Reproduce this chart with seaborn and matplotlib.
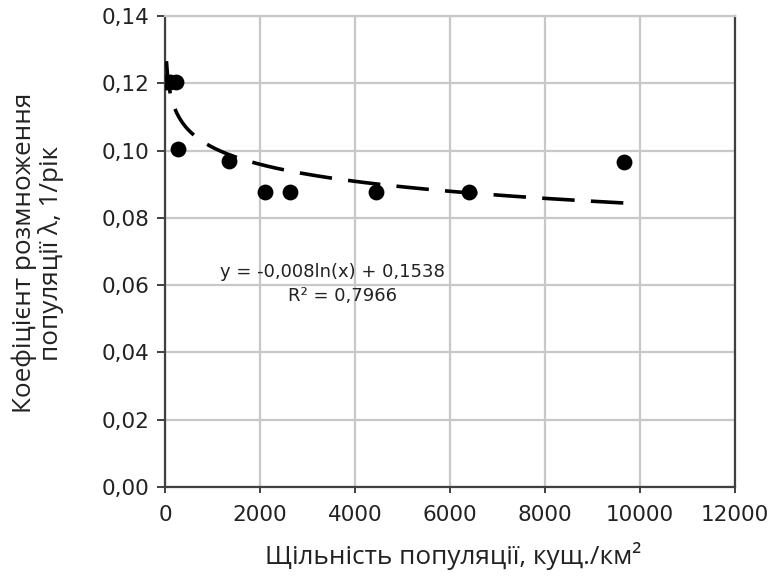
import numpy as np
import pandas as pd
import matplotlib
matplotlib.use("Agg")
import matplotlib.pyplot as plt
import seaborn as sns

# Data
density = [30, 110, 230, 267, 1347, 2105, 2630, 4440, 6400, 9660]
rate = [0.1205, 0.1205, 0.1205, 0.1006, 0.0969, 0.0878, 0.0878, 0.0878, 0.0878, 0.0967]
# logarithmic trend as drawn: y = a*ln(x) + b
trend_a = -0.0073
trend_b = 0.1514
eq_text = "y = -0,008ln(x) + 0,1538"
r2_text = "R² = 0,7966"
xticks = [0, 2000, 4000, 6000, 8000, 10000, 12000]
yticks = [0.00, 0.02, 0.04, 0.06, 0.08, 0.10, 0.12, 0.14]

sns.set_theme(style="white")
plt.rcParams['font.family'] = ['DejaVu Sans']

df = pd.DataFrame({"x": density, "y": rate})
xs = np.linspace(min(density), max(density), 400)
trend = pd.DataFrame({"x": xs, "y": trend_a * np.log(xs) + trend_b})

fig = plt.figure(figsize=(7.73, 5.77), dpi=100)
ax = fig.add_axes([165/773, 1-487/577, (735-165)/773, (487-16)/577])

sns.lineplot(data=trend, x="x", y="y", ax=ax, color="black", lw=2.6,
             dashes=False, zorder=3)
ax.lines[-1].set_dashes([9, 4.5])
sns.scatterplot(data=df, x="x", y="y", ax=ax, color="black", s=130,
                edgecolor="black", linewidth=0, zorder=4)

ax.set_xlim(0, 12000)
ax.set_ylim(0, 0.14)
ax.set_xticks(xticks)
ax.set_yticks(yticks)
ax.set_xticklabels([str(v) for v in xticks])
ax.set_yticklabels([f"{v:.2f}".replace(".", ",") for v in yticks])
ax.grid(True, color="#c8c8c8", lw=1.6)
ax.set_axisbelow(True)
for s in ["left", "bottom", "right"]:
    ax.spines[s].set_color("#404040")
    ax.spines[s].set_linewidth(1.6)
ax.spines["top"].set_color("#c8c8c8")
ax.spines["top"].set_linewidth(1.6)
ax.tick_params(axis="y", which="both", left=True, length=6, width=1.4,
               color="#404040", labelsize=15.5, pad=5, labelcolor="#222222")
ax.tick_params(axis="x", which="both", bottom=True, length=4, width=1.4,
               color="#404040", labelsize=15.5, pad=9, labelcolor="#222222")
ax.set_xlabel("")
ax.set_ylabel("")

ax.text(1150, 0.0638, eq_text, fontsize=13, color="#222222",
        ha="left", va="center")
ax.text(2580, 0.0568, r2_text, fontsize=13, color="#222222",
        ha="left", va="center")

fig.text(453/773, 1-556/577, "Щільність популяції, кущ./км²",
         fontsize=18.8, family=["Open Sans", "DejaVu Sans"], color="#222222",
         ha="center", va="center")
fig.text(38/773, 1-253/577, "Коефіцієнт розмноження\nпопуляції λ, 1/рік",
         fontsize=18.8, family=["Open Sans", "DejaVu Sans"], color="#222222",
         rotation=90, ha="center", va="center", linespacing=1.05,
         multialignment="center")

fig.savefig("out.png", dpi=100)
